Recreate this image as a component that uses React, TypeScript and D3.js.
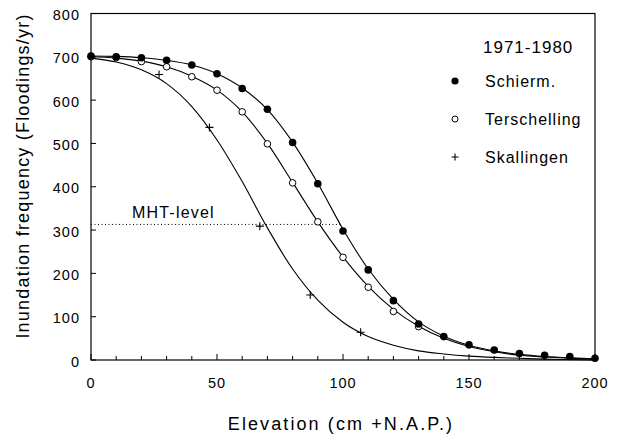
import React from "react";
import * as d3 from "d3";

// elevation grid (cm +N.A.P.) for observed points and fitted curves
const elevations = [0, 10, 20, 30, 40, 50, 60, 70, 80, 90, 100, 110, 120, 130, 140, 150, 160, 170, 180, 190, 200];

// observed inundation frequency (floodings/yr)
const schiermPts = [702, 700, 698, 692, 681, 661, 627, 579, 502, 407, 298, 208, 137, 83, 54, 35, 23, 15, 11, 8, 4];
const terschElev = [0, 10, 20, 30, 40, 50, 60, 70, 80, 90, 100, 110, 120, 130];
const terschPts = [700, 698, 689, 677, 654, 623, 573, 499, 409, 319, 237, 168, 112, 77];
const skalElev = [27, 47, 67, 87, 107];
const skalPts = [659, 537, 309, 150, 64];

// fitted curves
const schiermFit = [702, 701, 698, 692, 681, 661, 628, 578, 503, 408, 302, 210, 140, 88, 55, 34, 21, 13, 8, 5, 3];
const terschFit = [700, 697, 690, 677, 655, 623, 573, 500, 410, 319, 238, 170, 117, 78, 50, 31, 19, 11, 7, 4, 2];
const skalFit = [697, 688, 670, 638, 585, 508, 412, 305, 210, 138, 87, 54, 34, 21, 14, 9, 6, 4, 2, 1, 0];

const mhtLevel = 313;
const xTicks = [0, 50, 100, 150, 200];
const yTicks = [0, 100, 200, 300, 400, 500, 600, 700, 800];
const legendItems = ["Schierm.", "Terschelling", "Skallingen"];

const font = "'Liberation Sans', Arial, Helvetica, sans-serif";

export default function App() {
  const W = 620;
  const H = 437;
  const left = 91, right = 595, top = 13.5, bottom = 360;

  const x = d3.scaleLinear().domain([0, 200]).range([left, right]);
  const y = d3.scaleLinear().domain([0, 800]).range([bottom, top]);

  const line = d3
    .line<number>()
    .x((_, i) => x(elevations[i]))
    .y((d) => y(d))
    .curve(d3.curveMonotoneX);

  const minorTicks = d3.range(0, 201, 10);

  const plus = (cx: number, cy: number, s: number, key: string) => (
    <path
      key={key}
      d={`M${cx - s},${cy}H${cx + s}M${cx},${cy - s}V${cy + s}`}
      stroke="#000"
      strokeWidth={1.1}
      fill="none"
    />
  );

  return (
    <svg
      width={W}
      height={H}
      style={{ position: "absolute", left: 0, top: 0, background: "#fff" }}
      fontFamily={font}
    >
      <rect width={W} height={H} fill="#fff" />

      {/* frame */}
      <rect x={left} y={top} width={right - left} height={bottom - top} fill="none" stroke="#000" strokeWidth={1.2} />

      {/* x ticks (inside) */}
      {minorTicks.map((t) => (
        <line
          key={"xt" + t}
          x1={x(t)}
          x2={x(t)}
          y1={bottom}
          y2={bottom - (t % 50 === 0 ? 6 : 4)}
          stroke="#000"
          strokeWidth={1}
        />
      ))}
      {xTicks.map((t) => (
        <text key={"xl" + t} x={x(t)} y={388} fontSize={14.5} textAnchor="middle" letterSpacing={1}>
          {t}
        </text>
      ))}

      {/* y ticks (inside) */}
      {yTicks.map((t) => (
        <line key={"yt" + t} x1={left} x2={left + 5} y1={y(t)} y2={y(t)} stroke="#000" strokeWidth={1} />
      ))}
      {yTicks.map((t) => (
        <text key={"yl" + t} x={80} y={y(t) + 1.5} dy="0.35em" fontSize={14.5} textAnchor="end" letterSpacing={1}>
          {t}
        </text>
      ))}

      {/* axis titles */}
      <text x={341} y={430} fontSize={18} textAnchor="middle" letterSpacing={2.1}>
        Elevation (cm +N.A.P.)
      </text>
      <text
        transform={`translate(29,${176}) rotate(-90)`}
        fontSize={18}
        textAnchor="middle"
        letterSpacing={1.2}
      >
        Inundation frequency (Floodings/yr)
      </text>

      {/* MHT level */}
      <line
        x1={x(0)}
        x2={x(100)}
        y1={y(mhtLevel)}
        y2={y(mhtLevel)}
        stroke="#000"
        strokeWidth={1}
        strokeDasharray="1,2.5"
      />
      <text x={132} y={218} fontSize={16} letterSpacing={1.2}>
        MHT-level
      </text>

      {/* fitted curves */}
      <path d={line(skalFit) ?? ""} fill="none" stroke="#000" strokeWidth={1.1} />
      <path d={line(terschFit) ?? ""} fill="none" stroke="#000" strokeWidth={1.1} />
      <path d={line(schiermFit) ?? ""} fill="none" stroke="#000" strokeWidth={1.1} />

      {/* observations */}
      {skalPts.map((v, i) => plus(x(skalElev[i]), y(v), 4, "sk" + i))}
      {terschPts.map((v, i) => (
        <circle key={"te" + i} cx={x(terschElev[i])} cy={y(v)} r={3.3} fill="#fff" stroke="#000" strokeWidth={1} />
      ))}
      {schiermPts.map((v, i) => (
        <circle key={"sc" + i} cx={x(elevations[i])} cy={y(v)} r={3.8} fill="#000" />
      ))}

      {/* legend */}
      <text x={483} y={53} fontSize={17} letterSpacing={1}>
        1971-1980
      </text>
      <circle cx={455} cy={81} r={3.6} fill="#000" />
      <circle cx={455} cy={119} r={3} fill="#fff" stroke="#000" strokeWidth={1} />
      {plus(455, 157, 3.5, "lg")}
      {legendItems.map((name, i) => (
        <text key={name} x={485} y={81 + i * 38} dy="0.35em" fontSize={16} letterSpacing={1}>
          {name}
        </text>
      ))}
    </svg>
  );
}
